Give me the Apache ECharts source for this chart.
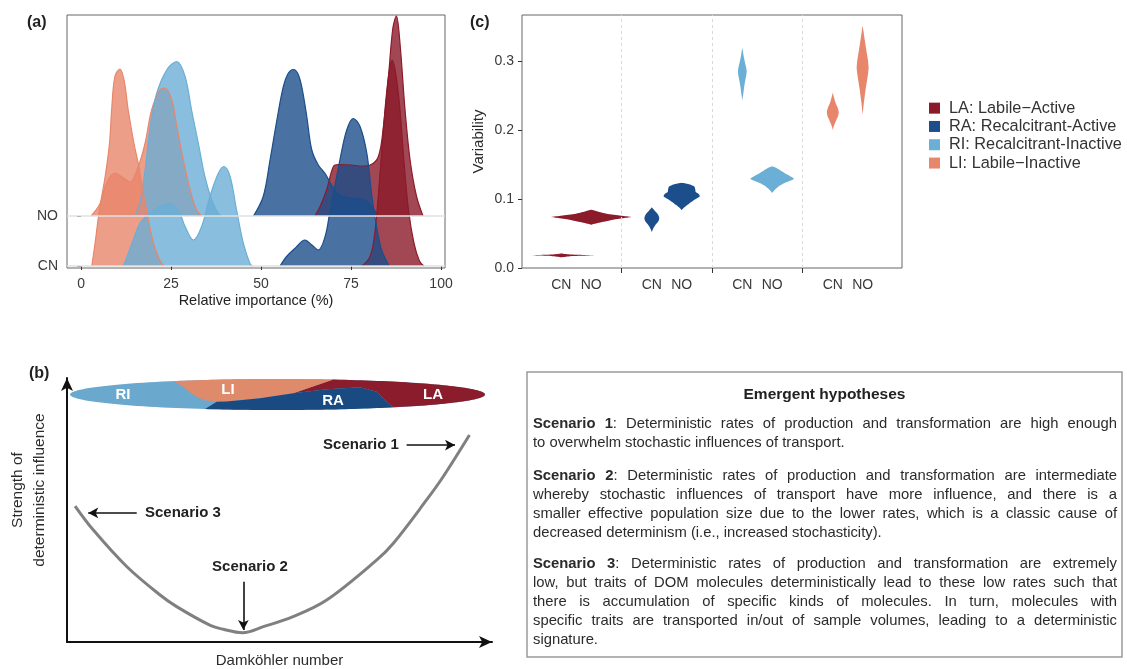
<!DOCTYPE html>
<html>
<head>
<meta charset="utf-8">
<script src="https://cdn.jsdelivr.net/npm/echarts@6/dist/echarts.min.js"></script>
<style>
html,body{margin:0;padding:0;background:#fff;}
#fig{width:1127px;height:669px;}
</style>
</head>
<body>
<div id="fig"></div>
<script>
// colours of the four DOM groups
var cLA = '#8B1A2B', cRA = '#1B4E8A', cRI = '#6BAED6', cLI = '#E8866B';
var names = ['LA: Labile\u2212Active', 'RA: Recalcitrant-Active', 'RI: Recalcitrant-Inactive', 'LI: Labile\u2212Inactive'];

// (a) ridgeline densities: [relative importance %, height above row baseline]
var laNO = [[65,0],[66.4,0.19],[68.2,0.52],[70.1,0.99],[71.5,1.03],[75,1.02],[78,1.0],[80.3,1.02],[82.6,1.19],[84,1.79],[85.4,2.79],[86.6,3.75],[87.6,4.0],[88.6,3.45],[90,2.12],[91.4,1.12],[93.2,0.39],[95,0]];
var laCN = [[78,0],[80,0.15],[81.2,0.45],[82.1,1.0],[83,1.8],[84.4,3.1],[85.5,3.85],[86.4,4.12],[87.3,3.9],[88.5,3.2],[89.8,2.0],[91,1.1],[92.5,0.45],[94,0.1],[95.2,0]];
var liNO = [[2.8,0],[5.3,0.25],[7.1,0.66],[9.4,0.86],[11.8,0.76],[13.6,0.68],[15.9,0.99],[17.8,1.46],[19.6,2.12],[21.9,2.52],[23.3,2.56],[25.2,2.32],[26.6,1.79],[28.4,1.12],[30.3,0.52],[32.1,0.12],[33.5,0]];
var liCN = [[3,0],[3.9,0.46],[5.1,1.12],[6.7,1.79],[7.9,2.45],[8.5,3.12],[9.4,3.79],[10.8,3.94],[12,3.7],[13.1,3.12],[14.7,2.45],[15.9,2.05],[16.8,1.65],[18.2,1.12],[20.1,0.46],[22,0.1],[23,0]];
var raNO = [[47.9,0],[50.6,0.39],[52.5,1.12],[54.4,1.92],[56.2,2.59],[57.6,2.86],[59,2.93],[60.2,2.85],[61.3,2.59],[62.7,1.99],[64.1,1.32],[65.9,1.02],[67.8,0.85],[69.6,0.62],[71.9,0.42],[74.7,0.36],[78.4,0.33],[80.7,0.19],[82.5,0]];
var raCN = [[55.3,0],[57.1,0.19],[59.4,0.35],[62.2,0.52],[64.1,0.42],[65.9,0.32],[67.8,0.59],[69.2,1.12],[71.9,2.12],[73.8,2.72],[75.6,2.95],[77.5,2.79],[79.4,2.25],[80.7,1.45],[82.1,0.79],[83.5,0.32],[85.6,0]];
var riNO = [[15,0],[16.3,0.25],[17.8,0.92],[19.2,1.79],[21,2.45],[23.8,2.92],[26.6,3.09],[28.9,2.79],[30.7,2.12],[32.6,1.45],[34.4,0.79],[36.3,0.32],[38.1,0.05],[39,0]];
var riCN = [[11.8,0],[14.5,0.52],[16.4,0.86],[19.2,1.06],[21.9,1.19],[24.7,1.25],[27,1.12],[28.9,0.79],[31.2,0.52],[33.5,0.79],[35.8,1.39],[38.1,1.85],[39.7,1.99],[41.4,1.79],[43.2,1.12],[45.1,0.45],[46.9,0.05],[47.6,0]];
var ridgeTicks = [0, 25, 50, 75, 100];
var rowNames = ['CN', 'NO'];

// (c) violins: [variability, half width in x units]
var vLaCN = [[0.0155,0],[0.0170,0.10],[0.0183,0.37],[0.0196,0.10],[0.0211,0]];
var vLaNO = [[0.0628,0],[0.0662,0.11],[0.0700,0.24],[0.0728,0.38],[0.0740,0.44],[0.0758,0.33],[0.0787,0.17],[0.0820,0.07],[0.0845,0]];
var vRaCN = [[0.052,0],[0.056,0.012],[0.060,0.028],[0.064,0.05],[0.068,0.074],[0.0725,0.082],[0.077,0.07],[0.081,0.045],[0.085,0.018],[0.088,0]];
var vRaNO = [[0.084,0],[0.088,0.03],[0.092,0.07],[0.096,0.11],[0.100,0.155],[0.104,0.2],[0.107,0.19],[0.110,0.155],[0.114,0.15],[0.118,0.14],[0.121,0.09],[0.1235,0]];
var vRiCN = [[0.243,0],[0.252,0.01],[0.262,0.02],[0.272,0.033],[0.280,0.045],[0.286,0.048],[0.292,0.04],[0.300,0.026],[0.308,0.014],[0.315,0.006],[0.319,0]];
var vRiNO = [[0.109,0],[0.112,0.02],[0.116,0.05],[0.120,0.09],[0.124,0.15],[0.1275,0.22],[0.1295,0.24],[0.132,0.215],[0.136,0.16],[0.140,0.11],[0.144,0.06],[0.1473,0]];
var vLiCN = [[0.200,0],[0.205,0.01],[0.210,0.025],[0.215,0.04],[0.220,0.058],[0.226,0.066],[0.232,0.055],[0.238,0.035],[0.244,0.02],[0.250,0.008],[0.2545,0]];
var vLiNO = [[0.222,0],[0.230,0.006],[0.240,0.014],[0.250,0.024],[0.260,0.034],[0.270,0.046],[0.280,0.058],[0.290,0.066],[0.300,0.06],[0.310,0.048],[0.320,0.036],[0.330,0.024],[0.340,0.013],[0.351,0]];
var violinYTicks = [0, 0.1, 0.2, 0.3];
var dodge = 0.165;

// (b) conceptual curve (Damkohler number vs strength of determinism, 0-100 scale)
var curveX = [1.9, 6.2, 14.1, 21.9, 25.8, 33.6, 36.8, 41.3, 46.2, 53.2, 61.1, 72.9, 76.8, 84.6, 88.5, 94.7];
var curveY = [51.5, 42.4, 28.5, 17.8, 13.4, 6.4, 4.8, 3.5, 5.8, 9.6, 15.9, 31.1, 37.4, 53.8, 62.6, 78.4];

var hypLines = [
  {y: 424, lead: true, just: true, t: 'Scenario 1: Deterministic rates of production and transformation are high enough'},
  {y: 443, t: 'to overwhelm stochastic influences of transport.'},
  {y: 476, lead: true, just: true, t: 'Scenario 2: Deterministic rates of production and transformation are intermediate'},
  {y: 495, just: true, t: 'whereby stochastic influences of transport have more influence, and there is a'},
  {y: 514, just: true, t: 'smaller effective population size due to the lower rates, which is a classic cause of'},
  {y: 533, t: 'decreased determinism (i.e., increased stochasticity).'},
  {y: 564, lead: true, just: true, t: 'Scenario 3: Deterministic rates of production and transformation are extremely'},
  {y: 583, just: true, t: 'low, but traits of DOM molecules deterministically lead to these low rates such that'},
  {y: 602, just: true, t: 'there is accumulation of specific kinds of molecules. In turn, molecules with'},
  {y: 621, just: true, t: 'specific traits are transported in/out of sample volumes, leading to a deterministic'},
  {y: 640, t: 'signature.'}
];

var FONT = '"Liberation Sans", Arial, sans-serif';
var BOX_FS = 14.8;

function ridge(name, data, base, color) {
  return {
    type: 'line', name: name, xAxisIndex: 0, yAxisIndex: 0, silent: true,
    data: data.map(function (p) { return [p[0], base + p[1]]; }),
    smooth: 0.35, symbol: 'none',
    lineStyle: {color: color, width: 1.2},
    itemStyle: {color: color},
    areaStyle: {color: color, opacity: 0.8, origin: base}
  };
}

function violin(name, color, gx, cn, no) {
  var profs = [cn, no];
  return {
    type: 'custom', name: name, xAxisIndex: 1, yAxisIndex: 1, silent: true,
    itemStyle: {color: color},
    data: [[gx - dodge, cn[0][0], 0], [gx + dodge, no[0][0], 1]],
    encode: {x: 0, y: 1},
    renderItem: function (params, api) {
      var xc = api.value(0), prof = profs[api.value(2)], pts = [], i;
      for (i = 0; i < prof.length; i++) pts.push(api.coord([xc + prof[i][1], prof[i][0]]));
      for (i = prof.length - 1; i >= 0; i--) pts.push(api.coord([xc - prof[i][1], prof[i][0]]));
      return {type: 'polygon', shape: {points: pts, smooth: 0.2}, style: {fill: color}};
    }
  };
}

// ellipse of the schematic (b)
var E = {cx: 277.5, cy: 394.5, rx: 207.5, ry: 15.5};
function arcPts(a0, a1, n) {
  var pts = [];
  for (var i = 0; i <= n; i++) {
    var a = a0 + (a1 - a0) * i / n;
    pts.push([E.cx + E.rx * Math.cos(a), E.cy - E.ry * Math.sin(a)]);
  }
  return pts;
}
function ang(x, top) { var a = Math.acos((x - E.cx) / E.rx); return top ? a : -a; }
var raTop = [[216.7,401.7],[226.7,401.5],[260,398.3],[293.3,393.3],[326.7,389.3],[360,387.3],[376.7,391.7],[386.7,401.7]];
var polyRI = arcPts(0, Math.PI * 2, 160);
var polyLA = arcPts(ang(333.3, true), ang(393.3, false), 80).concat(raTop.slice(3).reverse());
var polyLI = arcPts(ang(173.3, true), ang(333.3, true), 40).concat([[293.3,393.3],[260,398.3],[226.7,401.5],[216.7,401.7],[203.3,400],[193.3,395],[183.3,386.7]]);
var polyRA = arcPts(ang(205, false), ang(393.3, false), 40).concat(raTop.slice().reverse());

// justified text of the hypotheses box
var mctx = document.createElement('canvas').getContext('2d');
function tw(t, bold) { mctx.font = (bold ? 'bold ' : '') + BOX_FS + 'px ' + FONT; return mctx.measureText(t).width; }
var textEls = [];
var X0 = 533, X1 = 1117;
hypLines.forEach(function (ln) {
  var words = ln.t.split(' ');
  var segs = words.map(function (w, i) {
    if (ln.lead && i === 0) return [{t: w, b: true}];
    if (ln.lead && i === 1) return [{t: w.slice(0, -1), b: true}, {t: ':', b: false}];
    return [{t: w, b: false}];
  });
  var widths = segs.map(function (s) { return s.reduce(function (a, g) { return a + tw(g.t, g.b); }, 0); });
  var total = widths.reduce(function (a, b) { return a + b; }, 0);
  var gap = ln.just ? (X1 - X0 - total) / (words.length - 1) : tw(' ', false);
  var x = X0;
  segs.forEach(function (s, i) {
    var sx = x;
    s.forEach(function (g) {
      textEls.push({type: 'text', x: sx, y: ln.y, silent: true, style: {
        text: g.t, fill: '#2b2b2b', fontSize: BOX_FS, fontFamily: FONT, fontWeight: g.b ? 'bold' : 'normal', verticalAlign: 'middle'}});
      sx += tw(g.t, g.b);
    });
    x += widths[i] + gap;
  });
});

function label(t, x, y, opt) {
  var st = {text: t, fill: '#222', fontSize: 15, fontFamily: FONT, fontWeight: 'bold', verticalAlign: 'middle', align: 'left'};
  for (var k in opt) st[k] = opt[k];
  return {type: 'text', x: x, y: y, z: 50, silent: true, style: st};
}

var chart = echarts.init(document.getElementById('fig'));
var axisTxt = {color: '#3a3a3a', fontSize: 14, fontFamily: FONT};

var option = {
  animation: false,
  textStyle: {fontFamily: FONT},
  grid: [
    {left: 67, top: 15, width: 378, height: 253, show: true, borderColor: '#666', borderWidth: 1},
    {left: 522, top: 15, width: 380, height: 253, show: true, borderColor: '#666', borderWidth: 1},
    {left: 67, top: 378, width: 425, height: 264}
  ],
  xAxis: [
    {gridIndex: 0, type: 'value', min: -3.9, max: 101.1,
      axisLine: {show: false}, splitLine: {show: false},
      axisTick: {show: true, customValues: ridgeTicks, length: 4, lineStyle: {color: '#333'}},
      axisLabel: Object.assign({customValues: ridgeTicks, margin: 9}, axisTxt),
      name: 'Relative importance (%)', nameLocation: 'middle', nameGap: 25,
      nameTextStyle: {color: '#222', fontSize: 14.5, fontFamily: FONT}},
    {gridIndex: 1, type: 'value', min: 0.4, max: 4.6,
      axisLine: {show: false}, splitLine: {show: false},
      axisTick: {show: true, customValues: [1.5, 2.5, 3.5], length: 5, lineStyle: {color: '#333'}},
      axisLabel: Object.assign({customValues: [1 - dodge, 1 + dodge, 2 - dodge, 2 + dodge, 3 - dodge, 3 + dodge, 4 - dodge, 4 + dodge], margin: 10,
        formatter: function (v) { return (v - Math.floor(v)) > 0.5 ? 'CN' : 'NO'; }}, axisTxt)},
    {gridIndex: 2, type: 'value', min: 0, max: 100,
      axisLine: {show: true, onZero: false, symbol: ['none', 'arrow'], symbolSize: [9, 13], lineStyle: {color: '#111', width: 2}},
      axisTick: {show: false}, axisLabel: {show: false}, splitLine: {show: false},
      name: 'Damk\u00f6hler number', nameLocation: 'middle', nameGap: 11,
      nameTextStyle: {color: '#2b2b2b', fontSize: 15, fontFamily: FONT}}
  ],
  yAxis: [
    {gridIndex: 0, type: 'value', min: -0.04, max: 5.02,
      axisLine: {show: false}, splitLine: {show: false},
      axisTick: {show: true, customValues: [0, 1], length: 4, lineStyle: {color: '#333'}},
      axisLabel: Object.assign({customValues: [0, 1], margin: 9, formatter: function (v) { return rowNames[Math.round(v)]; }}, axisTxt)},
    {gridIndex: 1, type: 'value', min: 0, max: 0.3667,
      axisLine: {show: false}, splitLine: {show: false},
      axisTick: {show: true, customValues: violinYTicks, length: 4, lineStyle: {color: '#333'}},
      axisLabel: Object.assign({customValues: violinYTicks, margin: 8, formatter: function (v) { return v.toFixed(1); }}, axisTxt),
      name: 'Variability', nameLocation: 'middle', nameGap: 36,
      nameTextStyle: {color: '#2b2b2b', fontSize: 15, fontFamily: FONT}},
    {gridIndex: 2, type: 'value', min: 0, max: 100,
      axisLine: {show: true, onZero: false, symbol: ['none', 'arrow'], symbolSize: [9, 13], lineStyle: {color: '#111', width: 2}},
      axisTick: {show: false}, axisLabel: {show: false}, splitLine: {show: false}}
  ],
  legend: {
    orient: 'vertical', left: 924, top: 95, itemWidth: 11, itemHeight: 11, itemGap: 2,
    selectedMode: false,
    textStyle: {fontSize: 16.3, lineHeight: 16.3, color: '#333', fontFamily: FONT, padding: [0, 0, 0, 4]},
    data: [
      {name: names[0], icon: 'rect', itemStyle: {color: cLA}},
      {name: names[1], icon: 'rect', itemStyle: {color: cRA}},
      {name: names[2], icon: 'rect', itemStyle: {color: cRI}},
      {name: names[3], icon: 'rect', itemStyle: {color: cLI}}
    ]
  },
  series: [
    // row baselines in (a)
    {type: 'line', xAxisIndex: 0, yAxisIndex: 0, data: [], silent: true, z: 1,
      markLine: {silent: true, symbol: 'none', label: {show: false},
        lineStyle: {color: '#e2e2e2', width: 1.5, type: 'solid'},
        data: [{yAxis: 0}, {yAxis: 1}]}},
    ridge(names[0], laNO, 1, cLA),
    ridge(names[3], liNO, 1, cLI),
    ridge(names[1], raNO, 1, cRA),
    ridge(names[2], riNO, 1, cRI),
    ridge(names[0], laCN, 0, cLA),
    ridge(names[3], liCN, 0, cLI),
    ridge(names[1], raCN, 0, cRA),
    ridge(names[2], riCN, 0, cRI),
    // group separators in (c)
    {type: 'line', xAxisIndex: 1, yAxisIndex: 1, data: [], silent: true, z: 1,
      markLine: {silent: true, symbol: 'none', label: {show: false},
        lineStyle: {color: '#d9d9d9', width: 1, type: [3, 3]},
        data: [{xAxis: 1.5}, {xAxis: 2.5}, {xAxis: 3.5}]}},
    violin(names[0], cLA, 1, vLaCN, vLaNO),
    violin(names[1], cRA, 2, vRaCN, vRaNO),
    violin(names[2], cRI, 3, vRiCN, vRiNO),
    violin(names[3], cLI, 4, vLiCN, vLiNO),
    // (b) curve with scenario arrows
    {type: 'line', name: 'curve', xAxisIndex: 2, yAxisIndex: 2, silent: true,
      data: curveX.map(function (x, i) { return [x, curveY[i]]; }),
      smooth: 0.35, symbol: 'none', lineStyle: {color: '#808080', width: 3},
      markLine: {silent: true, symbol: ['none', 'arrow'], symbolSize: [8, 10], label: {show: false},
        lineStyle: {color: '#111', width: 1.6, type: 'solid'},
        data: [
          [{coord: [79.9, 74.6]}, {coord: [91.3, 74.6]}],
          [{coord: [16.4, 48.9]}, {coord: [5.0, 48.9]}],
          [{coord: [41.5, 22.8]}, {coord: [41.5, 4.5]}]
        ]}}
  ],
  graphic: {elements: [
    label('(a)', 27, 23, {fontSize: 16}),
    label('(c)', 470, 23, {fontSize: 16}),
    label('(b)', 29, 374, {fontSize: 16}),
    {type: 'polygon', z: 40, silent: true, shape: {points: polyRI}, style: {fill: '#6BA8CE'}},
    {type: 'polygon', z: 41, silent: true, shape: {points: polyLA}, style: {fill: '#8A1C2C'}},
    {type: 'polygon', z: 42, silent: true, shape: {points: polyLI}, style: {fill: '#E08A6C'}},
    {type: 'polygon', z: 42, silent: true, shape: {points: polyRA}, style: {fill: '#1A4A82'}},
    label('RI', 123, 395, {fill: '#fff', align: 'center', fontSize: 15}),
    label('LI', 228, 390, {fill: '#fff', align: 'center', fontSize: 15}),
    label('RA', 333, 401, {fill: '#fff', align: 'center', fontSize: 15}),
    label('LA', 433, 395, {fill: '#fff', align: 'center', fontSize: 15}),
    label('Scenario 1', 361, 445, {align: 'center'}),
    label('Scenario 3', 145, 513, {align: 'left'}),
    label('Scenario 2', 250, 567, {align: 'center'}),
    {type: 'text', x: 29, y: 490, rotation: Math.PI / 2, silent: true, style: {
      text: 'Strength of\ndeterministic influence', fill: '#2b2b2b', fontSize: 15.5, lineHeight: 22,
      fontFamily: FONT, align: 'center', verticalAlign: 'middle'}},
    {type: 'rect', silent: true, shape: {x: 527, y: 372, width: 595, height: 285},
      style: {fill: 'none', stroke: '#9a9a9a', lineWidth: 1.5}},
    label('Emergent hypotheses', 824.5, 395, {align: 'center', fontSize: 15.5})
  ].concat(textEls)}
};
chart.setOption(option);
</script>
</body>
</html>
